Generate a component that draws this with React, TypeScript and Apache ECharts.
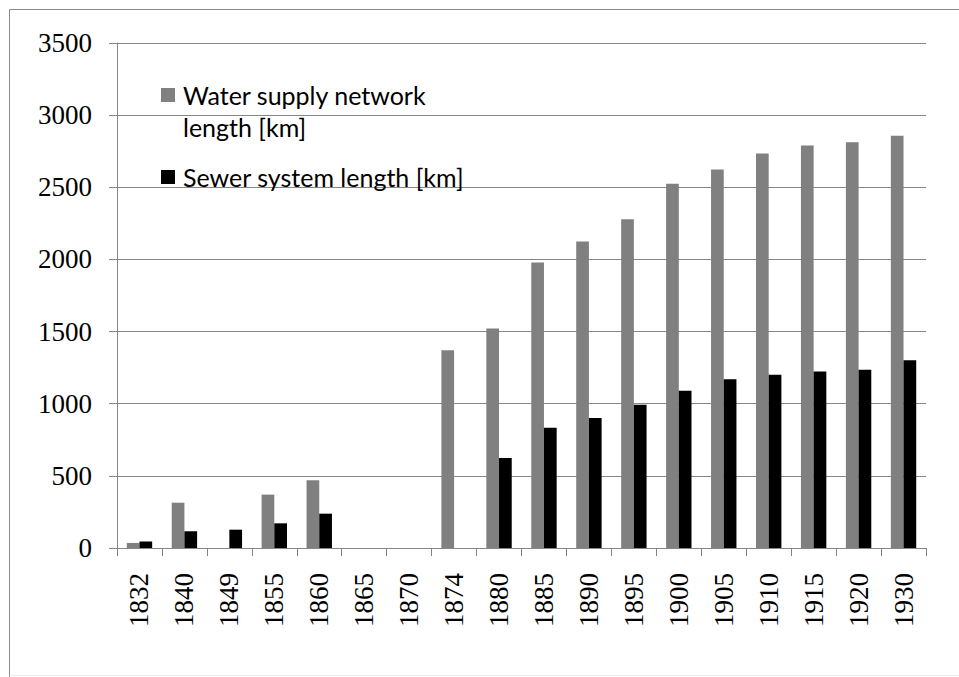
import React, { useEffect, useRef } from "react";
import * as echarts from "echarts";

// Years shown on the category axis
const years = [
  "1832", "1840", "1849", "1855", "1860", "1865", "1870", "1874", "1880",
  "1885", "1890", "1895", "1900", "1905", "1910", "1915", "1920", "1930",
];

// Length of the water supply network, km (null = no data)
const waterSupply: (number | null)[] = [
  35, 314, null, 370, 469, null, null, 1370, 1522,
  1978, 2124, 2279, 2524, 2623, 2734, 2790, 2812, 2857,
];

// Length of the sewer system, km (null = no data)
const sewerSystem: (number | null)[] = [
  45, 116, 127, 171, 238, null, null, null, 623,
  834, 901, 993, 1090, 1169, 1201, 1224, 1236, 1302,
];

const seriesNames = ["Water supply network\nlength [km]", "Sewer system length [km]"];
const seriesColors = ["#808080", "#000000"];

export default function App() {
  const ref = useRef<HTMLDivElement>(null);

  useEffect(() => {
    if (!ref.current) return;
    const chart = echarts.init(ref.current, undefined, { renderer: "svg" });
    const serif = "Liberation Serif";
    const sans = "Lato";

    chart.setOption({
      animation: false,
      backgroundColor: "#ffffff",
      grid: { left: 117, right: 33, top: 43, bottom: 129, containLabel: false },
      xAxis: {
        type: "category",
        data: years,
        axisLine: { lineStyle: { color: "#868686", width: 1 } },
        axisTick: { show: true, length: 8, alignWithLabel: false, lineStyle: { color: "#868686" } },
        axisLabel: {
          rotate: 90,
          margin: 25,
          interval: 0,
          color: "#000",
          fontFamily: serif,
          fontSize: 27,
        },
      },
      yAxis: {
        type: "value",
        min: 0,
        max: 3500,
        interval: 500,
        axisLine: { show: true, lineStyle: { color: "#868686", width: 1 } },
        axisTick: { show: true, length: 8, lineStyle: { color: "#868686" } },
        splitLine: { show: true, lineStyle: { color: "#868686", width: 1 } },
        axisLabel: {
          margin: 25,
          color: "#000",
          fontFamily: serif,
          fontSize: 27,
          formatter: (v: number) => String(v),
        },
      },
      series: [
        {
          name: seriesNames[0],
          type: "bar",
          data: waterSupply,
          barWidth: 12.7,
          barGap: "0%",
          itemStyle: { color: seriesColors[0] },
        },
        {
          name: seriesNames[1],
          type: "bar",
          data: sewerSystem,
          barWidth: 12.7,
          barGap: "0%",
          itemStyle: { color: seriesColors[1] },
        },
      ],
      graphic: [
        // chart frame: solid top and left edges, faint bottom edge
        {
          type: "line",
          silent: true,
          shape: { x1: 9.5, y1: 9.5, x2: 959, y2: 9.5 },
          style: { stroke: "#8a8a8a", lineWidth: 1 },
          z: 100,
        },
        {
          type: "line",
          silent: true,
          shape: { x1: 9.5, y1: 9.5, x2: 9.5, y2: 677 },
          style: { stroke: "#8a8a8a", lineWidth: 1 },
          z: 100,
        },
        {
          type: "line",
          silent: true,
          shape: { x1: 9.5, y1: 675.5, x2: 959, y2: 675.5 },
          style: { stroke: "#ececec", lineWidth: 1 },
          z: 100,
        },
        // legend keys and labels
        {
          type: "rect",
          shape: { x: 161, y: 88, width: 14, height: 14 },
          style: { fill: seriesColors[0] },
          z: 100,
        },
        {
          type: "text",
          x: 183,
          y: 79,
          style: {
            text: seriesNames[0],
            fill: "#000",
            fontFamily: sans,
            fontSize: 25,
            lineHeight: 32,
            verticalAlign: "top",
          },
          z: 100,
        },
        {
          type: "rect",
          shape: { x: 161, y: 170, width: 14, height: 14 },
          style: { fill: seriesColors[1] },
          z: 100,
        },
        {
          type: "text",
          x: 183,
          y: 161,
          style: {
            text: seriesNames[1],
            fill: "#000",
            fontFamily: sans,
            fontSize: 25,
            lineHeight: 32,
            verticalAlign: "top",
          },
          z: 100,
        },
      ],
    });

    return () => chart.dispose();
  }, []);

  return (
    <div
      ref={ref}
      style={{ position: "fixed", left: 0, top: 0, width: 959, height: 677 }}
    />
  );
}
